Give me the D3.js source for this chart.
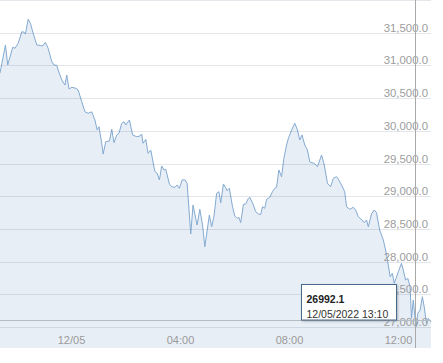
<!DOCTYPE html>
<html><head><meta charset="utf-8">
<script src="https://cdn.jsdelivr.net/npm/d3@7"></script>
<style>html,body{margin:0;padding:0;background:#fff;overflow:hidden}svg{display:block}</style>
</head><body><svg id="c" width="443" height="363"></svg>
<script>
// ---- data ----
const times = [
"12/04 21:54","12/04 22:06","12/04 22:11","12/04 22:22","12/04 22:27","12/04 22:34","12/04 22:42","12/04 22:47","12/04 22:50","12/04 22:56",
"12/04 23:01","12/04 23:07","12/04 23:15","12/04 23:22","12/04 23:28","12/04 23:34","12/04 23:40","12/04 23:48","12/04 23:53","12/04 23:59",
"12/05 00:02","12/05 00:10","12/05 00:17","12/05 00:21","12/05 00:26","12/05 00:32","12/05 00:41","12/05 00:46","12/05 00:54","12/05 01:01",
"12/05 01:08","12/05 01:16","12/05 01:23","12/05 01:28","12/05 01:32","12/05 01:38","12/05 01:41","12/05 01:47","12/05 01:55","12/05 02:00",
"12/05 02:05","12/05 02:11","12/05 02:16","12/05 02:22","12/05 02:27","12/05 02:31","12/05 02:39","12/05 02:46","12/05 02:55","12/05 03:02",
"12/05 03:06","12/05 03:09","12/05 03:15","12/05 03:20","12/05 03:26","12/05 03:35","12/05 03:40","12/05 03:45","12/05 03:50","12/05 03:55",
"12/05 03:59","12/05 04:07","12/05 04:12","12/05 04:19","12/05 04:24","12/05 04:29","12/05 04:35","12/05 04:41","12/05 04:46","12/05 04:54",
"12/05 04:59","12/05 05:08","12/05 05:14","12/05 05:20","12/05 05:25","12/05 05:35","12/05 05:40","12/05 05:45","12/05 05:51","12/05 05:56",
"12/05 06:00","12/05 06:06","12/05 06:11","12/05 06:14","12/05 06:19","12/05 06:26","12/05 06:31","12/05 06:36","12/05 06:40","12/05 06:44",
"12/05 06:50","12/05 06:55","12/05 07:01","12/05 07:04","12/05 07:12","12/05 07:17","12/05 07:23","12/05 07:28","12/05 07:32","12/05 07:37",
"12/05 07:41","12/05 07:48","12/05 07:54","12/05 07:59","12/05 08:03","12/05 08:08","12/05 08:14","12/05 08:19","12/05 08:25","12/05 08:29",
"12/05 08:36","12/05 08:43","12/05 08:49","12/05 08:54","12/05 08:59","12/05 09:05","12/05 09:11","12/05 09:16","12/05 09:21","12/05 09:26",
"12/05 09:33","12/05 09:42","12/05 09:48","12/05 09:55","12/05 10:02","12/05 10:08","12/05 10:15","12/05 10:20","12/05 10:26","12/05 10:33",
"12/05 10:37","12/05 10:44","12/05 10:52","12/05 10:57","12/05 11:03","12/05 11:11","12/05 11:16","12/05 11:21","12/05 11:25","12/05 11:32",
"12/05 11:38","12/05 11:43","12/05 11:50","12/05 11:58","12/05 12:05","12/05 12:13","12/05 12:18","12/05 12:22","12/05 12:26","12/05 12:31",
"12/05 12:38","12/05 12:42","12/05 12:47","12/05 12:52","12/05 12:57","12/05 13:00","12/05 13:04","12/05 13:10","12/05 13:14","12/05 13:19",
"12/05 13:24","12/05 13:28","12/05 13:33","12/05 13:37","12/05 13:43"
];
const prices = [
30884,31312,31006,31277,31261,31338,31515,31508,31480,31705,
31644,31491,31312,31305,31297,31353,31261,31057,31006,31000,
30930,30777,30700,30853,30639,30665,30650,30624,30445,30292,
30267,30290,30165,30012,30063,29809,29645,29833,29844,30023,
29818,29936,29962,30115,30139,30089,30165,29936,29910,29920,
29951,29809,29870,29656,29706,29375,29350,29248,29462,29401,
29411,29186,29145,29136,29171,29121,29248,29252,29197,28422,
28865,28560,28800,28560,28228,28712,28534,28686,29044,29069,
28900,29186,29130,29084,29121,28839,28697,28662,28677,28595,
28876,28881,28968,28983,28865,28763,28728,28720,28839,28815,
28952,28983,29069,29121,29136,29401,29298,29579,29783,29885,
30012,30115,30012,29859,29936,29783,29706,29527,29512,29503,
29451,29630,29477,29197,29145,29274,29298,29248,29171,29069,
28839,28800,28830,28789,28686,28636,28595,28636,28534,28728,
28789,28748,28483,28330,28116,27769,27821,27668,27744,27845,
27974,27871,27718,27744,27616,27133,27413,26992.1,27209,27260,
27463,27310,27056,27133,27076
];
const yTickValues = [27000,27500,28000,28500,29000,29500,30000,30500,31000,31500,32000];
const xTickTimes = ["12/05 00:00","12/05 04:00","12/05 08:00","12/05 12:00"];
const xTickLabels = ["12/05","04:00","08:00","12:00"];
const hoverTime = "12/05 13:10";
const hoverValue = 26992.1;
const tooltipDate = "12/05/2022 13:10";

// ---- chart ----
const parse = d3.timeParse("%Y/%m/%d %H:%M");
const P = s => parse("2022/" + s);
const data = times.map((t, i) => ({t: P(t), v: prices[i]}));

const W = 431, H = 327, bandH = 21;
const svg = d3.select("#c");
const x = d3.scaleTime().domain(d3.extent(data, d => d.t)).range([0, W]);
const y = d3.scaleLinear().domain([27000, 32000]).range([H, 0]);

svg.append("defs").append("clipPath").attr("id","clip")
  .append("rect").attr("x",0).attr("y",-1).attr("width",W).attr("height",H+1);
const f = svg.append("defs").append("filter").attr("id","sh").attr("x","-20%").attr("y","-20%").attr("width","150%").attr("height","160%");
f.append("feDropShadow").attr("dx",1).attr("dy",1).attr("stdDeviation",1).attr("flood-color","#000").attr("flood-opacity",0.25);

// x label band
svg.append("rect").attr("x",0).attr("y",H).attr("width",W).attr("height",bandH).attr("fill","#e8eef5");

const g = svg.append("g").attr("clip-path","url(#clip)");
g.append("path").datum(data)
  .attr("fill","#e7eef6")
  .attr("d", d3.area().x(d => x(d.t)).y0(H).y1(d => y(d.v)));

// gridlines
const yAxis = d3.axisRight(y).tickValues(yTickValues).tickSize(W).tickFormat("");
const ga = svg.append("g").call(yAxis);
ga.select(".domain").remove();
ga.selectAll(".tick line").attr("stroke","rgba(40,60,90,0.13)").attr("shape-rendering","crispEdges");

// y labels
svg.append("g").selectAll("text").data(yTickValues.filter(v => v < 32000)).join("text")
  .attr("x", 428).attr("y", d => y(d) - 1)
  .attr("text-anchor","end")
  .attr("font-family","'Liberation Sans', Arial, sans-serif").attr("font-size","11.4px")
  .attr("fill","#9d9d9d")
  .text(d => d3.format(",.1f")(d));

// line
g.append("path").datum(data)
  .attr("fill","none").attr("stroke","#84aad2").attr("stroke-width",1).attr("stroke-linejoin","round")
  .attr("d", d3.line().x(d => x(d.t)).y(d => y(d.v)));

// horizontal bottom line
svg.append("line").attr("x1",0).attr("x2",W).attr("y1",H-6.5).attr("y2",H-6.5)
  .attr("stroke","#b3bbc3").attr("stroke-width",1);

// x labels
const xAxis = d3.axisBottom(x).tickValues(xTickTimes.map(P)).tickSize(0)
  .tickFormat((d, i) => xTickLabels[i]);
const gx = svg.append("g").attr("transform",`translate(0,${H})`).call(xAxis);
gx.select(".domain").remove();
gx.selectAll("text").attr("text-anchor","start").attr("y",17).attr("dy",0)
  .attr("font-family","'Liberation Sans', Arial, sans-serif").attr("font-size","11px").attr("fill","#9a9a9a");

// crosshair
const hx = Math.round(x(P(hoverTime))) - 0.5;
svg.append("line").attr("x1",hx).attr("x2",hx).attr("y1",0).attr("y2",H+bandH)
  .attr("stroke","#a9a9a9").attr("stroke-width",1);

// tooltip
const tw = 95, th = 35.5;
const tx = hx - 19 - tw, ty = H - 7 - th;
const tt = svg.append("g").attr("transform",`translate(${tx},${ty})`);
tt.append("rect").attr("width",tw).attr("height",th).attr("fill","#fff").attr("stroke","#4a6b8a").attr("stroke-width",1).attr("filter","url(#sh)");
tt.append("text").attr("x",5).attr("y",18.5).attr("font-family","'Liberation Sans', Arial, sans-serif")
  .attr("font-size","10.5px").attr("font-weight","bold").attr("fill","#222").text(d3.format(".1f")(hoverValue));
tt.append("text").attr("x",5).attr("y",33.5).attr("font-family","'Liberation Sans', Arial, sans-serif")
  .attr("font-size","10.5px").attr("fill","#333").text(tooltipDate);
</script>
</body></html>
